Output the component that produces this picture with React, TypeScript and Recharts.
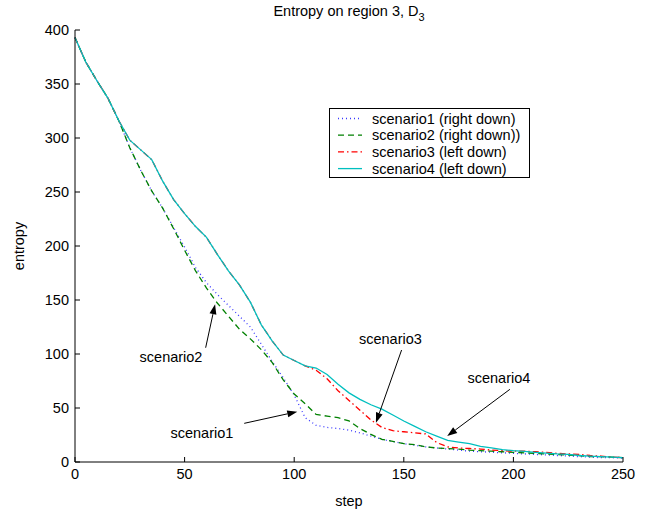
import { LineChart, Line, XAxis, YAxis, Legend, ReferenceLine, ReferenceDot, Label } from "recharts"

const FONT = "'Liberation Sans', Arial, Helvetica, sans-serif"

const steps = [0, 5, 10, 15, 20, 25, 30, 35, 40, 45, 50, 55, 60, 65, 70, 75, 80, 85, 90, 95, 100, 105, 110, 115, 120, 125, 130, 135, 140, 145, 150, 155, 160, 165, 170, 175, 180, 185, 190, 195, 200, 205, 210, 215, 220, 225, 230, 235, 240, 245, 250]

const scenario1 = [393, 370, 353, 337, 316, 291, 270, 251, 235, 217, 199, 180, 166, 155, 145, 135, 125, 109, 93, 78, 62, 41, 34, 32, 31, 29.5, 27, 24, 21, 19, 17, 15.5, 14, 13, 12, 11, 10, 9.5, 9, 8.5, 8, 7.5, 7, 6.5, 6, 5.5, 5, 4.5, 4, 4, 3.5]
const scenario2 = [393, 370, 353, 337, 316, 291, 270, 251, 235, 216, 196, 177, 161, 147, 135, 123, 114, 104, 92, 76, 63, 54, 44, 42.5, 41, 38, 31, 25.5, 21, 19, 17, 16, 14, 13, 12.5, 12, 11, 10.5, 10, 9.5, 9, 8.5, 8, 7.5, 7, 6.5, 6, 5, 5, 4.5, 4]
const scenario3 = [393, 370, 353, 337, 316, 298, 289, 280, 260, 243, 230, 218, 208, 192, 177, 164, 148, 127, 112, 99, 94, 89, 85, 77, 66, 57, 48, 39, 32, 29, 28, 27, 26, 18, 14, 13, 12.5, 12, 11, 10.5, 10, 10, 9.5, 9, 8, 7.5, 7, 6, 5.5, 4.5, 4]
const scenario4 = [393, 370, 353, 337, 316, 298, 289, 280, 260, 243, 230, 218, 208, 192, 177, 164, 148, 127, 112, 99, 94, 89, 87, 81, 72, 64, 58, 53, 49, 43.5, 38, 33, 28, 24, 20, 18.5, 17, 14.5, 13, 11.5, 10.5, 9.8, 9, 8.3, 7.5, 7, 6, 5.5, 5, 4.5, 4]

const seriesKeys = ["s1", "s2", "s3", "s4"]
const seriesNames = ["scenario1 (right down)", "scenario2 (right down))", "scenario3 (left down)", "scenario4 (left down)"]
const seriesColors = ["#3a3aff", "#008000", "#ff0000", "#00bfbf"]
const seriesDash = ["1 3", "6 4", "6 3 1.5 3", undefined]

const xTicks = [0, 50, 100, 150, 200, 250]
const yTicks = [0, 50, 100, 150, 200, 250, 300, 350, 400]

// annotations, in data units
const noteText = ["scenario1", "scenario2", "scenario3", "scenario4"]
const noteStep = [57.9, 43.8, 143.9, 193.4]
const noteValue = [26.9, 97.2, 113.9, 77.8]
const arrowFromStep = [77.2, 59.6, 149, 198.4]
const arrowFromValue = [35.8, 105.8, 103.7, 67.3]
const arrowToStep = [101.4, 63.9, 137.3, 169.8]
const arrowToValue = [46.6, 146, 36.4, 24]

const data = steps.map((step, i) => ({
  step,
  s1: scenario1[i],
  s2: scenario2[i],
  s3: scenario3[i],
  s4: scenario4[i],
}))

const TICK_LEN = 5

function Arrow(props: any) {
  const x1 = Number(props.x1), y1 = Number(props.y1), x2 = Number(props.x2), y2 = Number(props.y2)
  const dx = x2 - x1
  const dy = y2 - y1
  const len = Math.hypot(dx, dy) || 1
  const ux = dx / len
  const uy = dy / len
  const hl = 10
  const hw = 3.5
  const bx = x2 - ux * hl
  const by = y2 - uy * hl
  return (
    <g>
      <line x1={x1} y1={y1} x2={bx} y2={by} stroke="#000" strokeWidth={1} />
      <polygon points={`${x2},${y2} ${bx - uy * hw},${by + ux * hw} ${bx + uy * hw},${by - ux * hw}`} fill="#000" />
    </g>
  )
}

function NoteText(text: string) {
  return (props: any) => (
    <text x={props.cx} y={props.cy} textAnchor="middle" dominantBaseline="central" fontSize={14.5} fontFamily={FONT} fill="#000">
      {text}
    </text>
  )
}

// inward tick marks, labels outside (matlab style)
function BottomTick(props: any) {
  const { x, y, payload } = props
  return (
    <g>
      <line x1={x} x2={x} y1={y} y2={y - TICK_LEN} stroke="#000" />
      <text x={x} y={y + 17} textAnchor="middle" fontSize={14.5} fontFamily={FONT} fill="#000">
        {payload.value}
      </text>
    </g>
  )
}

function LeftTick(props: any) {
  const { x, y, payload } = props
  return (
    <g>
      <line x1={x} x2={x + TICK_LEN} y1={y} y2={y} stroke="#000" />
      <text x={x - 6} y={y} textAnchor="end" dominantBaseline="central" fontSize={14.5} fontFamily={FONT} fill="#000">
        {payload.value}
      </text>
    </g>
  )
}

function TopTick(props: any) {
  const { x, y } = props
  return <line x1={x} x2={x} y1={y} y2={y + TICK_LEN} stroke="#000" />
}

function RightTick(props: any) {
  const { x, y } = props
  return <line x1={x} x2={x - TICK_LEN} y1={y} y2={y} stroke="#000" />
}

function LegendBox() {
  return (
    <svg width={202} height={71} style={{ display: "block" }}>
      <rect x={0.5} y={0.5} width={200} height={69} fill="#fff" stroke="#000" />
      {seriesNames.map((name, i) => {
        const cy = 10.5 + i * 16.7
        return (
          <g key={name}>
            <line x1={9} x2={33} y1={cy} y2={cy} stroke={seriesColors[i]} strokeWidth={1.3} strokeDasharray={seriesDash[i]} />
            <text x={43} y={cy} dominantBaseline="central" fontSize={14.5} fontFamily={FONT} fill="#000">
              {name}
            </text>
          </g>
        )
      })}
    </svg>
  )
}

export default function App() {
  return (
    <div style={{ position: "absolute", left: 0, top: 0, width: 654, height: 512, background: "#fff" }}>
      <div
        style={{
          position: "absolute",
          left: 0,
          top: 3,
          width: 698,
          textAlign: "center",
          fontFamily: FONT,
          fontSize: 14.5,
          lineHeight: "16px",
          color: "#000",
          zIndex: 1,
        }}
      >
        Entropy on region 3, D<sub style={{ fontSize: 11, verticalAlign: "-5px", lineHeight: 0 }}>3</sub>
      </div>
      <LineChart width={654} height={512} data={data} margin={{ top: 30, right: 31, left: 15, bottom: 5 }}>
        <XAxis
          dataKey="step"
          type="number"
          domain={[0, 250]}
          ticks={xTicks}
          height={45}
          tickSize={0}
          tickMargin={0}
          tickLine={false}
          stroke="#000"
          tick={BottomTick}
        >
          <Label
            content={(p: any) => (
              <text x={p.viewBox.x + p.viewBox.width / 2} y={p.viewBox.y + 44} textAnchor="middle" fontSize={14.5} fontFamily={FONT} fill="#000">
                step
              </text>
            )}
          />
        </XAxis>
        <XAxis
          xAxisId="top"
          orientation="top"
          dataKey="step"
          type="number"
          domain={[0, 250]}
          ticks={xTicks}
          height={0}
          tickSize={0}
          tickMargin={0}
          tickLine={false}
          tick={TopTick}
          stroke="#000"
        />
        <YAxis
          type="number"
          domain={[0, 400]}
          ticks={yTicks}
          width={60}
          tickSize={0}
          tickMargin={0}
          tickLine={false}
          stroke="#000"
          tick={LeftTick}
        >
          <Label
            content={(p: any) => {
              const cx = p.viewBox.x + 4
              const cy = p.viewBox.y + p.viewBox.height / 2
              return (
                <text x={cx} y={cy} transform={`rotate(-90, ${cx}, ${cy})`} textAnchor="middle" dominantBaseline="central" fontSize={14.5} fontFamily={FONT} fill="#000">
                  entropy
                </text>
              )
            }}
          />
        </YAxis>
        <YAxis
          yAxisId="right"
          orientation="right"
          type="number"
          domain={[0, 400]}
          ticks={yTicks}
          width={0}
          tickSize={0}
          tickMargin={0}
          tickLine={false}
          tick={RightTick}
          stroke="#000"
        />
        <Legend layout="vertical" align="center" verticalAlign="middle" wrapperStyle={{ position: "absolute", left: 329, top: 108, width: 202, height: 71 }} content={() => <LegendBox />} />
        {seriesKeys.map((key, i) => (
          <Line
            key={key}
            dataKey={key}
            name={seriesNames[i]}
            type="linear"
            stroke={seriesColors[i]}
            strokeWidth={1.3}
            strokeDasharray={seriesDash[i]}
            dot={false}
            activeDot={false}
            isAnimationActive={false}
          />
        ))}
        {noteText.map((t, i) => (
          <ReferenceLine
            key={`arrow-${t}`}
            segment={[
              { x: arrowFromStep[i], y: arrowFromValue[i] },
              { x: arrowToStep[i], y: arrowToValue[i] },
            ]}
            shape={Arrow}
          />
        ))}
        {noteText.map((t, i) => (
          <ReferenceDot key={`note-${t}`} x={noteStep[i]} y={noteValue[i]} r={0} shape={NoteText(t)} />
        ))}
      </LineChart>
    </div>
  )
}
